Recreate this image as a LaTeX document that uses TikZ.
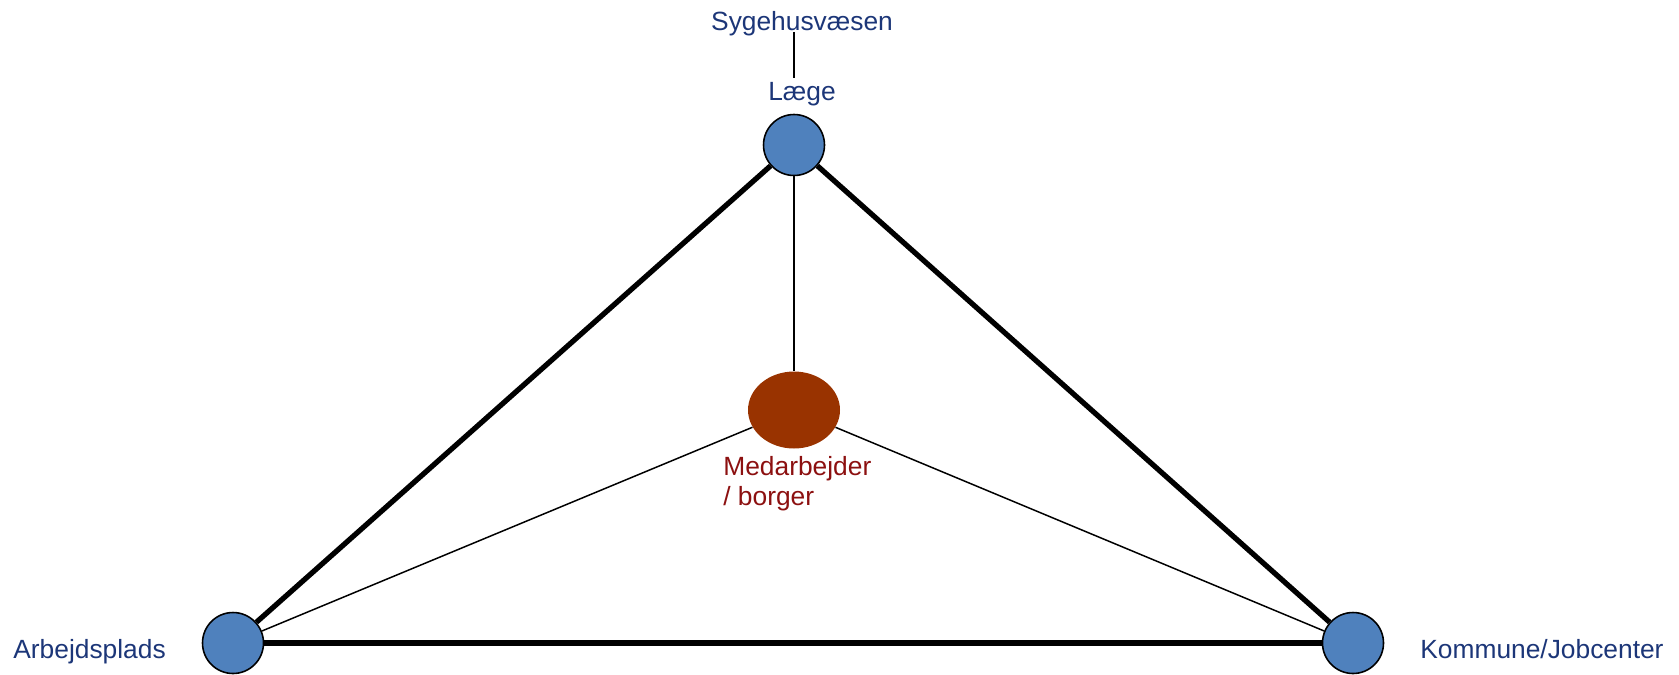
\documentclass[tikz,border=0pt]{standalone}
\usepackage{fontspec}
\setmainfont{Liberation Sans}
\usepackage{tikz}
\usepackage{xcolor}
\usetikzlibrary{shapes.geometric, positioning, calc}
\definecolor{cHub}{RGB}{79,129,189}
\definecolor{cPerson}{RGB}{153,51,0}
\definecolor{cNavy}{RGB}{28,54,120}
\definecolor{cDarkRed}{RGB}{140,16,16}
\tikzset{
	hubnode/.style={circle, draw=black, line width=0.9pt, fill=cHub, minimum size=1.22cm, inner sep=0pt},
	personnode/.style={ellipse, fill=cPerson, minimum width=1.84cm, minimum height=1.54cm, inner sep=0pt},
	lbl/.style={font=\fontsize{15}{17}\selectfont, text=cNavy, inner sep=0pt},
	strongline/.style={line width=3pt},
	weakline/.style={line width=0.85pt},
}
\begin{document}
\begin{tikzpicture}[x=0.02cm, y=-0.02cm]
	\useasboundingbox (0,0) rectangle (1679,674);
	% actors
	\node[hubnode] (laegecirc) at (794,145) {};
	\node[hubnode] (arbcirc) at (233,643) {};
	\node[hubnode] (komcirc) at (1353,643) {};
	\node[personnode] (borger) at (794,410) {};
	% labels
	\node[lbl, anchor=base] (syg) at (802,30) {Sygehusvæsen};
	\node[lbl, anchor=base] (laege) at (802,100) {Læge};
	\node[lbl, anchor=base west] (arb) at (13,658) {Arbejdsplads};
	\node[lbl, anchor=base west] (kom) at (1420,658) {Kommune/Jobcenter};
	\node[lbl, text=cDarkRed, align=left, anchor=north west] (medarb) at (723,456) {Medarbejder\\/ borger};
	% connections
	\draw[weakline] ($(syg.south -| laegecirc)+(0,-4)$) -- ($(laege.north -| laegecirc)+(0,-4)$);
	\draw[strongline] (laegecirc) -- (arbcirc);
	\draw[strongline] (laegecirc) -- (komcirc);
	\draw[strongline] (arbcirc) -- (komcirc);
	\draw[weakline] (laegecirc) -- (borger);
	\draw[weakline] (borger) -- (arbcirc);
	\draw[weakline] (borger) -- (komcirc);
\end{tikzpicture}
\end{document}
